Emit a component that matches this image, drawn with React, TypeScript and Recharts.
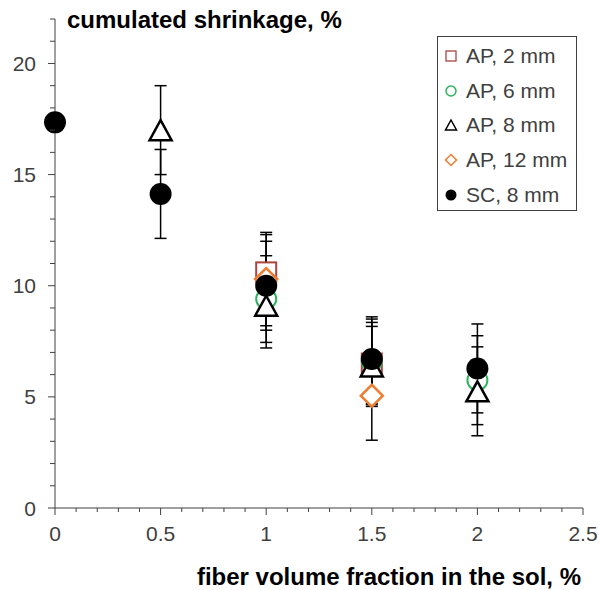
import React from 'react';
import { ScatterChart, Scatter, XAxis, YAxis, ErrorBar, Legend, Label } from 'recharts';

// AP, 2 mm
const ap2X = [1, 1.5];
const ap2Y = [10.6, 6.5];
const ap2Err = [1.7, 1.85];

// AP, 6 mm
const ap6X = [1, 1.5, 2];
const ap6Y = [9.4, 6.6, 5.75];
const ap6Err = [1.95, 1.9, 2.0];

// AP, 8 mm
const ap8X = [0.5, 1, 1.5, 2];
const ap8Y = [17.0, 9.1, 6.37, 5.25];
const ap8Err = [2.0, 1.9, 1.8, 2.0];

// AP, 12 mm
const ap12X = [1, 1.5];
const ap12Y = [10.3, 5.05];
const ap12Err = [2.1, 2.0];

// SC, 8 mm
const scX = [0, 0.5, 1, 1.5, 2];
const scY = [17.35, 14.13, 10.0, 6.7, 6.28];
const scErr = [0, 2.0, 2.0, 1.9, 2.0];

const xMajorTicks = [0, 0.5, 1, 1.5, 2, 2.5];
const yMajorTicks = [0, 5, 10, 15, 20];
const legendNames = ['AP, 2 mm', 'AP, 6 mm', 'AP, 8 mm', 'AP, 12 mm', 'SC, 8 mm'];

const FONT = '"Liberation Sans", Arial, sans-serif';
const AXIS = '#404040';
const RED = '#A9443F';
const GREEN = '#2DB35E';
const ORANGE = '#ED7D31';

const toPoints = (xs: number[], ys: number[], errs: number[]) =>
    xs.map((x, i) => ({ x, y: ys[i], err: errs[i] }));

const ap2 = toPoints(ap2X, ap2Y, ap2Err);
const ap6 = toPoints(ap6X, ap6Y, ap6Err);
const ap8 = toPoints(ap8X, ap8Y, ap8Err);
const ap12 = toPoints(ap12X, ap12Y, ap12Err);
const sc = toPoints(scX, scY, scErr);
// excel draws every error bar underneath all the markers
const allPoints = [...ap2, ...ap6, ...ap8, ...ap12, ...sc];

// minor ticks: 0.1 on x, 1 on y
const xTicks = Array.from({ length: 26 }, (_, i) => Math.round(i) / 10);
const yTicks = Array.from({ length: 23 }, (_, i) => i);

const Square = ({ cx, cy, s = 10, w = 2 }: any) => (
    <rect x={cx - s} y={cy - s} width={s * 2} height={s * 2} fill="#fff" stroke={RED} strokeWidth={w} />
);
const Ring = ({ cx, cy, r = 10, w = 2 }: any) => (
    <circle cx={cx} cy={cy} r={r} fill="#fff" stroke={GREEN} strokeWidth={w} />
);
const Tri = ({ cx, cy, s = 10, w = 2.5 }: any) => (
    <path d={`M${cx},${cy - s} L${cx + s * 1.1},${cy + s} L${cx - s * 1.1},${cy + s} Z`} fill="#fff" stroke="#000" strokeWidth={w} strokeLinejoin="miter" />
);
const Diamond = ({ cx, cy, s = 11, w = 2.5 }: any) => (
    <path d={`M${cx},${cy - s} L${cx + s},${cy} L${cx},${cy + s} L${cx - s},${cy} Z`} fill="#fff" stroke={ORANGE} strokeWidth={w} />
);
const Dot = ({ cx, cy, r = 11 }: any) => <circle cx={cx} cy={cy} r={r} fill="#000" />;

const XTick = ({ x, y, payload }: any) => {
    const v = payload.value;
    const major = xMajorTicks.some(t => Math.abs(t - v) < 1e-6);
    return (
        <g>
            <line x1={x} x2={x} y1={y} y2={y + (major ? 7 : 4)} stroke={AXIS} />
            {major && (
                <text x={x} y={y + 33} textAnchor="middle" fontSize={21} fontFamily={FONT} fill={AXIS}>
                    {v}
                </text>
            )}
        </g>
    );
};

const YTick = ({ x, y, payload }: any) => {
    const v = payload.value;
    const major = yMajorTicks.includes(v);
    return (
        <g>
            <line x1={x} x2={x - (major ? 7 : 5)} y1={y} y2={y} stroke={AXIS} />
            {major && (
                <text x={x - 19} y={y + 7.5} textAnchor="end" fontSize={21} fontFamily={FONT} fill={AXIS}>
                    {v}
                </text>
            )}
        </g>
    );
};

const legendIcons = [
    <Square cx={7} cy={7} s={5} w={1.3} />,
    <Ring cx={7} cy={7} r={5} w={1.5} />,
    <Tri cx={7} cy={7} s={5} w={1.5} />,
    <Diamond cx={7} cy={7} s={5.5} w={1.5} />,
    <Dot cx={7} cy={7} r={5.5} />,
];

const LegendBox = () => (
    <div
        style={{
            border: `1px solid ${AXIS}`,
            background: '#fff',
            width: 140,
            height: 175,
            paddingTop: 2,
            boxSizing: 'border-box',
            fontFamily: FONT,
            fontSize: 21,
            color: AXIS,
        }}
    >
        {legendNames.map((name, i) => (
            <div key={name} style={{ display: 'flex', alignItems: 'center', height: 34.6 }}>
                <svg width={14} height={14} style={{ marginLeft: 6, marginRight: 8 }}>
                    {legendIcons[i]}
                </svg>
                <span style={{ whiteSpace: 'nowrap' }}>{name}</span>
            </div>
        ))}
    </div>
);

const App: React.FC = () => {
    return (
        <div style={{ position: 'absolute', left: 0, top: 0, background: '#fff' }}>
            <ScatterChart width={598} height={590} margin={{ top: 19, right: 15, bottom: 0, left: 0 }}>
                <XAxis
                    type="number"
                    dataKey="x"
                    domain={[0, 2.5]}
                    ticks={xTicks}
                    interval={0}
                    tickSize={0}
                    tickMargin={0}
                    tickLine={false}
                    tick={<XTick />}
                    axisLine={{ stroke: AXIS }}
                    height={82}
                >
                    <Label
                        content={() => (
                            <text x={581} y={585} textAnchor="end" fontSize={24} fontWeight="bold" fontFamily={FONT} fill="#000">
                                fiber volume fraction in the sol, %
                            </text>
                        )}
                    />
                </XAxis>
                <YAxis
                    type="number"
                    dataKey="y"
                    domain={[0, 22]}
                    ticks={yTicks}
                    interval={0}
                    tickSize={0}
                    tickMargin={0}
                    tickLine={false}
                    tick={<YTick />}
                    axisLine={{ stroke: AXIS }}
                    width={55}
                >
                    <Label
                        content={() => (
                            <text x={67} y={28} fontSize={24} fontWeight="bold" fontFamily={FONT} fill="#000">
                                cumulated shrinkage, %
                            </text>
                        )}
                    />
                </YAxis>
                <Legend
                    layout="vertical"
                    align="center"
                    verticalAlign="middle"
                    content={() => <LegendBox />}
                    wrapperStyle={{ left: 437, top: 36, width: 142, height: 177 }}
                />
                <Scatter data={allPoints} isAnimationActive={false} shape={() => <g />} legendType="none">
                    <ErrorBar dataKey="err" direction="y" width={6} stroke="#000" strokeWidth={1.5} />
                </Scatter>
                <Scatter name="AP, 2 mm" data={ap2} isAnimationActive={false} shape={(p: any) => <Square cx={p.cx} cy={p.cy} />} />
                <Scatter name="AP, 6 mm" data={ap6} isAnimationActive={false} shape={(p: any) => <Ring cx={p.cx} cy={p.cy} />} />
                <Scatter name="AP, 8 mm" data={ap8} isAnimationActive={false} shape={(p: any) => <Tri cx={p.cx} cy={p.cy} />} />
                <Scatter name="AP, 12 mm" data={ap12} isAnimationActive={false} shape={(p: any) => <Diamond cx={p.cx} cy={p.cy} />} />
                <Scatter name="SC, 8 mm" data={sc} isAnimationActive={false} shape={(p: any) => <Dot cx={p.cx} cy={p.cy} />} />
            </ScatterChart>
        </div>
    );
};

export default App;
